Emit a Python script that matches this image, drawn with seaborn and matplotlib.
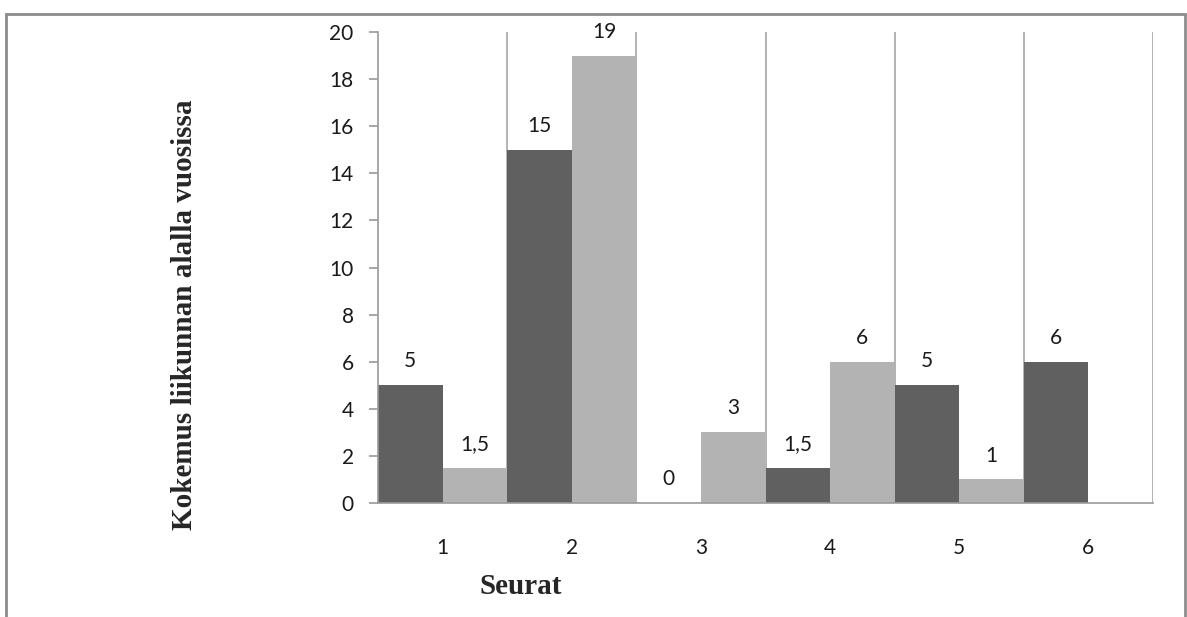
import numpy as np
import pandas as pd
import matplotlib
matplotlib.use("Agg")
import matplotlib.pyplot as plt
import seaborn as sns
from matplotlib.patches import Rectangle

# data
seurat = ["1", "2", "3", "4", "5", "6"]
sarja1 = [5, 15, 0, 1.5, 5, 6]
sarja2 = [1.5, 19, 3, 6, 1, np.nan]   # seura 6 has no second bar
sarjat = ["Sarja 1", "Sarja 2"]
yticks = list(range(0, 21, 2))

df = pd.DataFrame({
    "Seura": seurat * 2,
    "Sarja": [sarjat[0]] * len(seurat) + [sarjat[1]] * len(seurat),
    "Vuodet": sarja1 + sarja2,
})

sns.set_style("white")
plt.rcParams['font.family'] = ['Lato', 'DejaVu Sans']

fig = plt.figure(figsize=(11.87, 6.17), dpi=100)
ax = fig.add_axes([378 / 1187, 1 - 503 / 617, (1153 - 378) / 1187, (503 - 32) / 617])

sns.barplot(data=df, x="Seura", y="Vuodet", hue="Sarja", order=seurat,
            hue_order=sarjat, palette=["#606060", "#b3b3b3"], width=1.0,
            gap=0, saturation=1, legend=False, ax=ax, zorder=2,
            linewidth=0, edgecolor="none")

for cont in ax.containers:
    labels = []
    for v in cont.datavalues:
        labels.append("" if np.isnan(v) else f"{v:g}".replace(".", ","))
    ax.bar_label(cont, labels=labels, padding=10, fontsize=15, color="#1a1a1a")

ax.set_xlim(-0.5, len(seurat) - 0.5)
ax.set_ylim(0, 20)
ax.set_yticks(yticks)
ax.set_xticks(np.arange(len(seurat)) + 0.5, minor=True)
ax.grid(True, which="minor", axis="x", color="#a6a6a6", lw=1.2, zorder=0)
ax.set_axisbelow(True)

for s in ["top", "right"]:
    ax.spines[s].set_visible(False)
for s in ["left", "bottom"]:
    ax.spines[s].set_color("#9a9a9a")
    ax.spines[s].set_linewidth(1.2)

ax.tick_params(axis="y", which="major", left=True, length=6.5, width=1.2,
               color="#9a9a9a", labelsize=15, labelcolor="#1a1a1a", pad=11)
ax.tick_params(axis="x", which="both", bottom=False, labelsize=15,
               labelcolor="#1a1a1a", pad=22)

ax.set_xlabel("")
ax.set_ylabel("")
fig.text(185 / 1187, 1 - 315 / 617, "Kokemus liikunnan alalla vuosissa",
         rotation=90, ha="center", va="center", fontsize=21,
         fontweight="bold", family="Liberation Serif")
fig.text(521 / 1187, 1 - 587 / 617, "Seurat", ha="center", va="center",
         fontsize=21, fontweight="bold", family="Liberation Serif")

# outer chart border (bottom edge falls outside the picture)
fig.patches.append(Rectangle((6 / 1187, -0.1), (1185 - 6) / 1187, 1.1 - 14 / 617,
                             transform=fig.transFigure, fill=False,
                             edgecolor="#8c8c8c", lw=2))

fig.savefig("out.png", dpi=100)
